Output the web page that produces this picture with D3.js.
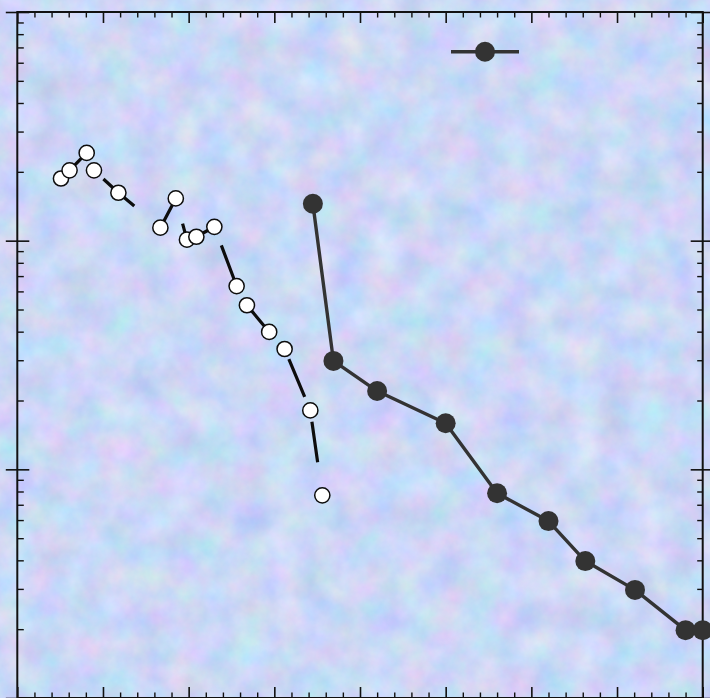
<!DOCTYPE html>
<html><head><meta charset="utf-8">
<script src="https://cdn.jsdelivr.net/npm/d3@7"></script>
<style>html,body{margin:0;padding:0;overflow:hidden;background:#cad8f3}</style>
</head><body>
<script>
// ---- data ----
const openX = [0.51, 0.61, 0.81, 0.895, 1.18, 1.67, 1.85, 1.98, 2.09, 2.30, 2.56, 2.68, 2.94, 3.12, 3.42, 3.56];
const openY = [187, 203, 242, 203, 162, 114, 153, 101, 104, 115, 63.3, 52.2, 39.9, 33.6, 18.1, 7.7];
const filledX = [3.45, 3.69, 4.20, 5.00, 5.60, 6.20, 6.63, 7.21, 7.80, 8.00];
const filledY = [145, 29.8, 22.0, 15.9, 7.86, 5.94, 3.97, 2.97, 1.98, 1.98];
const xMajorTicks = [0, 1, 2, 3, 4, 5, 6, 7, 8];
const xMinorTicks = d3.range(0, 8.001, 0.2).filter(v => Math.abs(v - Math.round(v)) > 1e-6);
const yMajorTicks = [1, 10, 100, 1000];
const yMinorTicks = [1, 10, 100].flatMap(d => [2,3,4,5,6,7,8,9].map(k => k * d));
const legendLabel = "";

const W = 710, H = 698;
const L = 17.3, R = 702.7, T = 12, B = 698;

const svg = d3.select("body").append("svg").attr("width", W).attr("height", H)
  .style("display", "block");

// textured pastel background
const defs = svg.append("defs");
const f = defs.append("filter").attr("id", "tex").attr("x", 0).attr("y", 0)
  .attr("width", W).attr("height", H).attr("filterUnits", "userSpaceOnUse")
  .attr("color-interpolation-filters", "sRGB");
f.append("feTurbulence").attr("type", "fractalNoise").attr("baseFrequency", "0.03")
  .attr("numOctaves", 5).attr("seed", 7).attr("result", "n");
f.append("feColorMatrix").attr("in", "n").attr("type", "matrix")
  .attr("values", "0.27 0 0 0 0.66  0 0.18 0 0 0.755  0 0 0.12 0 0.905  0 0 0 0 1");
svg.append("rect").attr("width", W).attr("height", H).attr("filter", "url(#tex)");

const x = d3.scaleLinear().domain([0, 8]).range([L, R]);
const y = d3.scaleLog().domain([1, 1000]).range([B, T]);

// ---- axes ----
function styleAxis(g, sw) {
  g.selectAll("path.domain").remove();
  g.selectAll("line").attr("stroke", "#111").attr("stroke-width", sw);
  g.selectAll("text").remove();
}
// top (ticks inward, down)
svg.append("g").attr("transform", `translate(0,${T})`)
  .call(d3.axisBottom(x).tickValues(xMajorTicks).tickSize(11).tickSizeOuter(0).tickFormat(""))
  .call(g => styleAxis(g, 1.6));
svg.append("g").attr("transform", `translate(0,${T})`)
  .call(d3.axisBottom(x).tickValues(xMinorTicks).tickSize(5.5).tickSizeOuter(0).tickFormat(""))
  .call(g => styleAxis(g, 1.4));
// bottom (ticks inward, up)
svg.append("g").attr("transform", `translate(0,${B})`)
  .call(d3.axisTop(x).tickValues(xMajorTicks).tickSize(11).tickSizeOuter(0).tickFormat(""))
  .call(g => styleAxis(g, 1.6));
svg.append("g").attr("transform", `translate(0,${B})`)
  .call(d3.axisTop(x).tickValues(xMinorTicks).tickSize(5.5).tickSizeOuter(0).tickFormat(""))
  .call(g => styleAxis(g, 1.4));
// left: majors both sides, minors inward
svg.append("g").attr("transform", `translate(${L},0)`)
  .call(d3.axisRight(y).tickValues(yMajorTicks).tickSize(12).tickSizeOuter(0).tickFormat(""))
  .call(g => styleAxis(g, 1.6));
svg.append("g").attr("transform", `translate(${L},0)`)
  .call(d3.axisLeft(y).tickValues(yMajorTicks).tickSize(11.5).tickSizeOuter(0).tickFormat(""))
  .call(g => styleAxis(g, 1.6));
svg.append("g").attr("transform", `translate(${L},0)`)
  .call(d3.axisRight(y).tickValues(yMinorTicks).tickSize(6.5).tickSizeOuter(0).tickFormat(""))
  .call(g => styleAxis(g, 1.4));
// right: majors both sides, minors inward
svg.append("g").attr("transform", `translate(${R},0)`)
  .call(d3.axisLeft(y).tickValues(yMajorTicks).tickSize(12).tickSizeOuter(0).tickFormat(""))
  .call(g => styleAxis(g, 1.6));
svg.append("g").attr("transform", `translate(${R},0)`)
  .call(d3.axisRight(y).tickValues(yMajorTicks).tickSize(11.5).tickSizeOuter(0).tickFormat(""))
  .call(g => styleAxis(g, 1.6));
svg.append("g").attr("transform", `translate(${R},0)`)
  .call(d3.axisLeft(y).tickValues(yMinorTicks).tickSize(5.5).tickSizeOuter(0).tickFormat(""))
  .call(g => styleAxis(g, 1.4));
// frame
svg.append("rect").attr("x", L).attr("y", T).attr("width", R - L).attr("height", B - T)
  .attr("fill", "none").attr("stroke", "#111").attr("stroke-width", 2);

// ---- series ----
const line = d3.line().x(d => x(d[0])).y(d => y(d[1]));
const openData = openX.map((v, i) => [v, openY[i]]);
const filledData = filledX.map((v, i) => [v, filledY[i]]);

svg.append("path").datum(openData).attr("d", line)
  .attr("fill", "none").attr("stroke", "#0d0d0d").attr("stroke-width", 3.2)
  .attr("stroke-dasharray", "41,26").attr("stroke-dashoffset", 66)
  .attr("stroke-linecap", "butt").attr("stroke-linejoin", "round");
svg.append("g").selectAll("circle").data(openData).join("circle")
  .attr("cx", d => x(d[0])).attr("cy", d => y(d[1])).attr("r", 7.6)
  .attr("fill", "#fff").attr("stroke", "#0d0d0d").attr("stroke-width", 1.5);

svg.append("path").datum(filledData).attr("d", line)
  .attr("fill", "none").attr("stroke", "#333").attr("stroke-width", 3.4)
  .attr("stroke-linejoin", "round");
svg.append("g").selectAll("circle").data(filledData).join("circle")
  .attr("cx", d => x(d[0])).attr("cy", d => y(d[1])).attr("r", 10)
  .attr("fill", "#333");

// ---- legend ----
const lg = svg.append("g").attr("transform", "translate(485,51.7)");
lg.append("line").attr("x1", -34).attr("x2", 34).attr("stroke", "#333").attr("stroke-width", 3.4);
lg.append("circle").attr("r", 10).attr("fill", "#333");
lg.append("text").attr("x", 44).attr("y", 5).text(legendLabel);
</script>
</body></html>
